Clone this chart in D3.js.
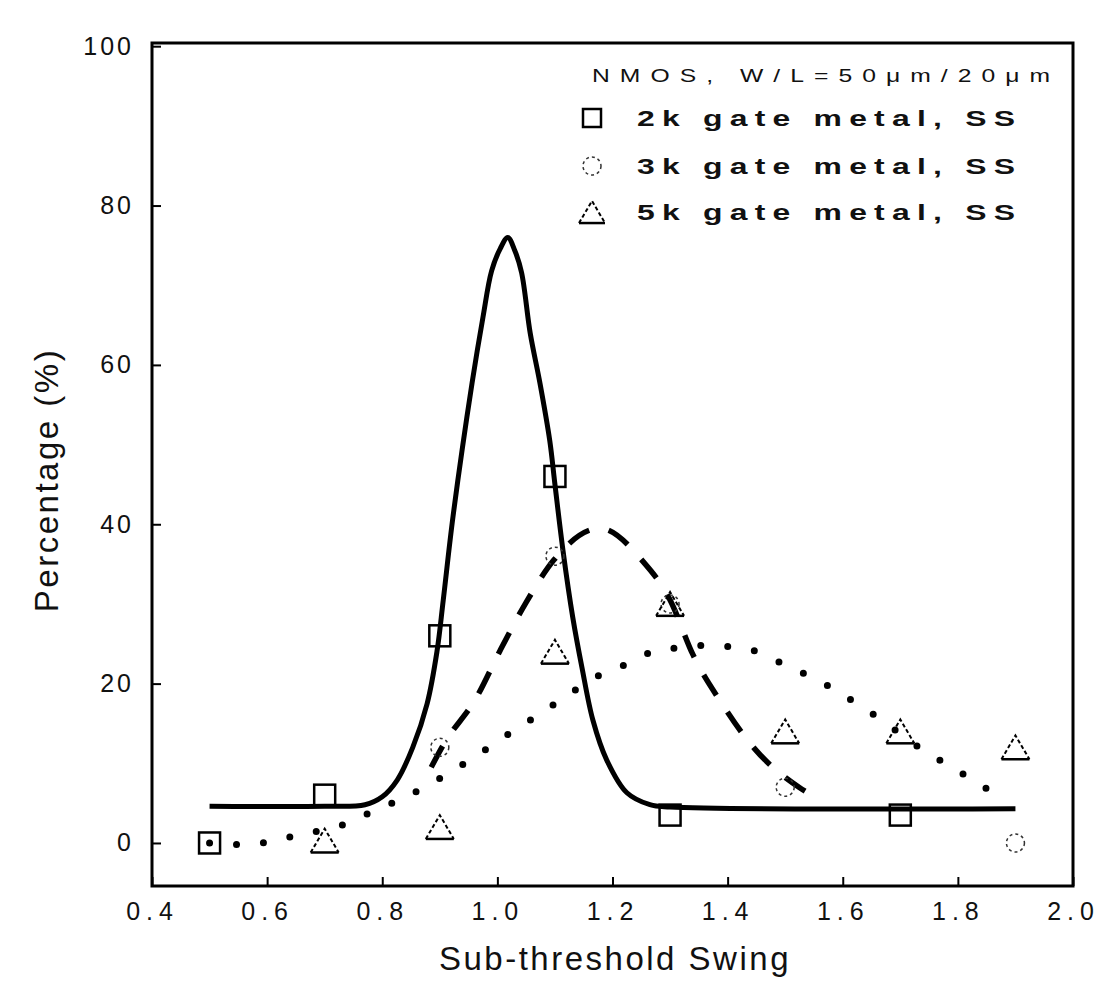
<!DOCTYPE html>
<html>
<head>
<meta charset="utf-8">
<script src="https://cdnjs.cloudflare.com/ajax/libs/d3/7.8.5/d3.min.js"></script>
<style>
  html, body { margin: 0; padding: 0; background: #fff; }
  svg { display: block; }
  text { font-family: "Liberation Sans", Arial, sans-serif; fill: #111; }
</style>
</head>
<body>
<svg id="chart" width="1107" height="984"></svg>
<script>
// ---------- data ----------
const xCategories = [0.5, 0.7, 0.9, 1.1, 1.3, 1.5, 1.7, 1.9];
const gate2k = [0, 6, 26, 46, 3.5, null, 3.5, null];      // squares
const gate3k = [null, null, 12, 36, 30, 7, null, 0];      // circles
const gate5k = [null, 0.3, 2, 24, 30, 14, 14, 12];        // triangles

// fitted curves as drawn in the figure (x, %)
const fit2kX = [0.5, 0.7, 0.77, 0.8, 0.826, 0.853, 0.878, 0.895, 0.906, 0.923, 0.956, 0.975, 0.99, 1.005, 1.018, 1.03, 1.042, 1.057, 1.074, 1.091, 1.1, 1.114, 1.131, 1.147, 1.166, 1.19, 1.225, 1.265, 1.3, 1.9];
const fit2kY = [4.6, 4.6, 4.8, 5.8, 7.9, 12, 17.5, 24, 30.5, 41, 57.7, 66, 71.8, 74.6, 76, 74.4, 71.6, 64, 57.7, 50.5, 45, 36.7, 28.3, 22, 15.4, 10.4, 6.3, 4.8, 4.5, 4.3];

const fit3kX = [0.885, 0.906, 0.964, 1.005, 1.05, 1.098, 1.178, 1.251, 1.3, 1.34, 1.39, 1.446, 1.524, 1.56];
const fit3kY = [9.5, 12.3, 18.3, 24.2, 30.2, 35.5, 39.5, 35.5, 30.5, 23.6, 17.5, 11.9, 7, 5.5];

const fit5kX = [0.5, 0.55, 0.6, 0.648, 0.744, 0.787, 0.836, 0.883, 0.932, 0.979, 1.026, 1.076, 1.123, 1.17, 1.22, 1.266, 1.312, 1.359, 1.406, 1.456, 1.503, 1.552, 1.6, 1.65, 1.745, 1.795, 1.838, 1.889];
const fit5kY = [0, -0.2, 0.1, 0.9, 2.6, 4.1, 5.6, 7.4, 9.5, 11.7, 14, 16.3, 18.6, 20.8, 22.3, 23.9, 24.5, 24.8, 24.6, 23.9, 22.2, 20.6, 18.6, 16.3, 11.4, 9.3, 7.3, 5.4];

const xTickValues = [0.4, 0.6, 0.8, 1.0, 1.2, 1.4, 1.6, 1.8, 2.0];
const yTickValues = [0, 20, 40, 60, 80, 100];

const xTitle = "Sub-threshold Swing";
const yTitle = "Percentage (%)";
const noteText = "NMOS, W/L=50\u03bcm/20\u03bcm";
const legendLabels = ["2k gate metal, SS", "3k gate metal, SS", "5k gate metal, SS"];

// ---------- layout ----------
const svg = d3.select("#chart");
const mLeft = 152, mRight = 1073, mTop = 43, mBottom = 886;

const x = d3.scaleLinear().domain([0.4, 2.0]).range([mLeft, mRight]);
const y = d3.scaleLinear().domain([-5.4, 100.4]).range([mBottom, mTop]);

// frame
svg.append("rect")
  .attr("x", mLeft).attr("y", mTop)
  .attr("width", mRight - mLeft).attr("height", mBottom - mTop)
  .attr("fill", "none").attr("stroke", "#000").attr("stroke-width", 3);

// axes (inward ticks)
const yAxis = d3.axisLeft(y).tickValues(yTickValues).tickSizeInner(-9).tickSizeOuter(0).tickPadding(18)
  .tickFormat(d3.format("d"));
const gy = svg.append("g").attr("transform", `translate(${mLeft},0)`).call(yAxis);
gy.select(".domain").remove();
gy.selectAll(".tick line").attr("stroke", "#000").attr("stroke-width", 2);
gy.selectAll(".tick text").attr("font-size", 25).attr("letter-spacing", 3).attr("fill", "#111")
  .attr("font-family", "Liberation Sans, Arial, sans-serif");

const xAxis = d3.axisBottom(x).tickValues(xTickValues).tickSizeInner(-9).tickSizeOuter(0).tickPadding(16)
  .tickFormat(d3.format(".1f"));
const gx = svg.append("g").attr("transform", `translate(0,${mBottom})`).call(xAxis);
gx.select(".domain").remove();
gx.selectAll(".tick line").attr("stroke", "#000").attr("stroke-width", 2);
gx.selectAll(".tick text").attr("font-size", 25).attr("letter-spacing", 6).attr("fill", "#111")
  .attr("font-family", "Liberation Sans, Arial, sans-serif");

// axis titles
svg.append("text")
  .attr("x", 615).attr("y", 970)
  .attr("text-anchor", "middle")
  .attr("font-size", 33).attr("letter-spacing", 2.5)
  .text(xTitle);

svg.append("text")
  .attr("transform", "translate(58,480) rotate(-90)")
  .attr("text-anchor", "middle")
  .attr("font-size", 33).attr("letter-spacing", 2.5)
  .text(yTitle);

// ---------- fitted curves ----------
const line = d3.line().x(d => x(d[0])).y(d => y(d[1])).curve(d3.curveMonotoneX);
const lineSolid = d3.line().x(d => x(d[0])).y(d => y(d[1])).curve(d3.curveCatmullRom.alpha(0.5));

svg.append("path")
  .datum(d3.zip(fit5kX, fit5kY))
  .attr("d", line).attr("fill", "none")
  .attr("stroke", "#000").attr("stroke-width", 7)
  .attr("stroke-linecap", "round").attr("stroke-dasharray", "0 27");

svg.append("path")
  .datum(d3.zip(fit3kX, fit3kY))
  .attr("d", line).attr("fill", "none")
  .attr("stroke", "#000").attr("stroke-width", 5.5)
  .attr("stroke-dasharray", "24 20");

svg.append("path")
  .datum(d3.zip(fit2kX, fit2kY))
  .attr("d", lineSolid).attr("fill", "none")
  .attr("stroke", "#000").attr("stroke-width", 5)
  .attr("stroke-linejoin", "round");

// ---------- markers ----------
function pts(arr) {
  return xCategories.map((c, i) => [c, arr[i]]).filter(d => d[1] !== null);
}
const sq = 21;
function drawSquare(g, cx, cy, s) {
  g.append("rect").attr("x", cx - s / 2).attr("y", cy - s / 2).attr("width", s).attr("height", s)
    .attr("fill", "none").attr("stroke", "#000").attr("stroke-width", 2.5);
}
function drawCircle(g, cx, cy, r) {
  g.append("circle").attr("cx", cx).attr("cy", cy).attr("r", r)
    .attr("fill", "none").attr("stroke", "#333").attr("stroke-width", 1.5)
    .attr("stroke-dasharray", "3 3");
}
function drawTriangle(g, cx, cy, w) {
  const h = w * 0.85;
  g.append("path")
    .attr("d", `M${cx - w / 2},${cy + h / 2} L${cx},${cy - h / 2} L${cx + w / 2},${cy + h / 2}`)
    .attr("fill", "none").attr("stroke", "#000").attr("stroke-width", 2)
    .attr("stroke-dasharray", "4 2.5");
  g.append("line")
    .attr("x1", cx - w / 2).attr("x2", cx + w / 2)
    .attr("y1", cy + h / 2).attr("y2", cy + h / 2)
    .attr("stroke", "#000").attr("stroke-width", 2.5);
}

const gm = svg.append("g");
pts(gate2k).forEach(d => drawSquare(gm, x(d[0]), y(d[1]), sq));
pts(gate3k).forEach(d => drawCircle(gm, x(d[0]), y(d[1]), 9));
pts(gate5k).forEach(d => drawTriangle(gm, x(d[0]), y(d[1]), 28));

// ---------- legend ----------
svg.append("g").attr("transform", "translate(592,82) scale(1.3,1)")
  .append("text")
  .attr("x", 0).attr("y", 0)
  .attr("font-size", 19)
  .attr("textLength", 458 / 1.3).attr("lengthAdjust", "spacing")
  .text(noteText);

const legY = [118, 166, 212];
const lg = svg.append("g");
drawSquare(lg, 592, legY[0], 18);
drawCircle(lg, 592, legY[1], 9);
drawTriangle(lg, 592, legY[2], 26);
legendLabels.forEach((t, i) => {
  lg.append("g").attr("transform", `translate(637,${legY[i] + 8}) scale(1.45,1)`)
    .append("text")
    .attr("x", 0).attr("y", 0)
    .attr("font-size", 22).attr("font-weight", "bold")
    .attr("textLength", 378 / 1.45).attr("lengthAdjust", "spacing")
    .text(t);
});
</script>
</body>
</html>
